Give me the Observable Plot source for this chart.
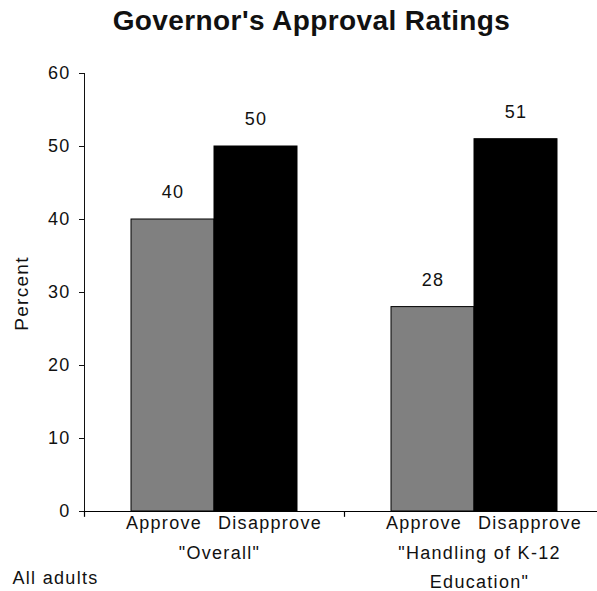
<!DOCTYPE html>
<html>
<head>
<meta charset="utf-8">
<script src="https://cdn.jsdelivr.net/npm/d3@7"></script>
<script src="https://cdn.jsdelivr.net/npm/@observablehq/plot@0.6"></script>
<style>
  html, body { margin: 0; padding: 0; background: #fff; }
  #title { width: 597px; height: 45px; box-sizing: border-box; padding-left: 26px; text-align: center;
           font-family: "Liberation Sans", Arial, sans-serif; font-weight: bold; font-size: 28px;
           letter-spacing: 0.4px; line-height: 42px; color: #111; }
  #chart svg text { letter-spacing: 1.3px; }
</style>
</head>
<body>
<div id="title">Governor's Approval Ratings</div>
<div id="chart"></div>
<script>
const groups = ['"Overall"', '"Handling of K-12\nEducation"'];
const responses = ["Approve", "Disapprove"];
const approveValues = [40, 28];
const disapproveValues = [50, 51];
const yTicks = [0, 10, 20, 30, 40, 50, 60];
const yLabel = "Percent";
const footnote = "All adults";

const data = groups.flatMap((g, i) => [
  {group: g, response: responses[0], value: approveValues[i]},
  {group: g, response: responses[1], value: disapproveValues[i]}
]);

const chart = Plot.plot({
  width: 597,
  height: 546,
  marginTop: 28,
  marginBottom: 80,
  marginLeft: 84,
  marginRight: 0,
  style: {fontFamily: "'Liberation Sans', Arial, sans-serif", fontSize: "18px", color: "#111", background: "#fff"},
  fx: {domain: groups, range: [84, 604], padding: 0, axis: null},
  x: {domain: responses, paddingInner: 0, paddingOuter: 0.566, axis: null},
  y: {domain: [0, 60], ticks: yTicks, tickSize: 5, tickPadding: 9, line: true, label: null},
  color: {domain: responses, range: ["#808080", "#000000"]},
  marks: [
    Plot.barY(data, {fx: "group", x: "response", y: "value", fill: "response", stroke: "#000", strokeWidth: 1}),
    Plot.text(data, {fx: "group", x: "response", y: "value", text: d => String(d.value), dy: -27, fill: "#111"}),
    Plot.ruleY([0], {stroke: "#000", strokeWidth: 1.2}),
    Plot.ruleX(groups, {fx: d => d, x: () => responses[0], y1: 0, y2: -0.8, dx: -88.5, stroke: "#000", strokeWidth: 1.2}),
    Plot.text(data.filter(d => d.response === responses[0]), {fx: "group", x: "response", text: "response", frameAnchor: "bottom", lineAnchor: "top", dy: 5, dx: -9, fill: "#111"}),
    Plot.text(data.filter(d => d.response === responses[1]), {fx: "group", x: "response", text: "response", frameAnchor: "bottom", lineAnchor: "top", dy: 5, dx: 14, fill: "#111"}),
    Plot.text(groups, {fx: d => d, text: d => d, frameAnchor: "bottom", lineAnchor: "top", dy: 27, dx: 5, lineHeight: 1.6, fill: "#111"}),
    Plot.text([yLabel], {fx: () => groups[0], text: d => d, frameAnchor: "left", textAnchor: "middle", rotate: -90, dx: -63, dy: 1, fontSize: 19, fill: "#111"}),
    Plot.text([footnote], {fx: () => groups[0], text: d => d, frameAnchor: "bottom-left", textAnchor: "start", lineAnchor: "top", dx: -72, dy: 60, fill: "#111"})
  ]
});
document.getElementById("chart").appendChild(chart);
</script>
</body>
</html>
